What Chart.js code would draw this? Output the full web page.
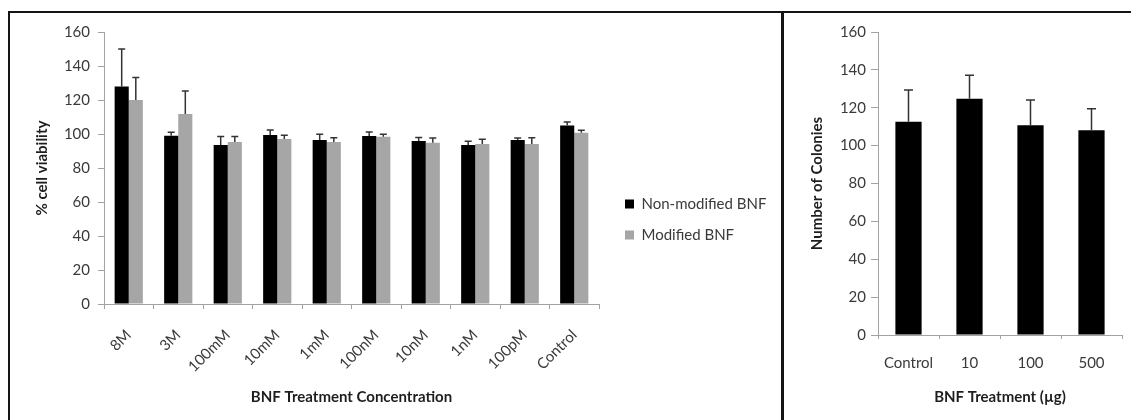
<!DOCTYPE html>
<html>
<head>
<meta charset="utf-8">
<script src="https://cdn.jsdelivr.net/npm/chart.js@4.4.1/dist/chart.umd.min.js"></script>
<style>
  html, body { margin: 0; padding: 0; background: #fff; }
  body { width: 1131px; height: 420px; position: relative; overflow: hidden; }
  .frame { position: absolute; background: #141414; }
  canvas { position: absolute; }
</style>
</head>
<body>
<div class="frame" style="left:8px; top:11px; width:1123px; height:2px;"></div>
<div class="frame" style="left:8px; top:11px; width:2px; height:409px;"></div>
<div class="frame" style="left:781px; top:11px; width:3px; height:409px;"></div>
<canvas id="viability" width="771" height="407" style="left:10px; top:13px; width:771px; height:407px;"></canvas>
<canvas id="colonies" width="347" height="407" style="left:784px; top:13px; width:347px; height:407px;"></canvas>
<script>
// ---------- data ----------
const concentrations = ['8M', '3M', '100mM', '10mM', '1mM', '100nM', '10nM', '1nM', '100pM', 'Control'];
const nonModified    = [128, 99, 93.5, 99.4, 96.5, 98.8, 95.9, 93.5, 96.5, 105];
const nonModifiedErr = [22, 2, 5, 3, 3.3, 2.4, 2, 2.2, 1.2, 2];
const modified       = [120, 111.8, 95.3, 97, 95.3, 98.4, 94.9, 94.1, 94.1, 100.8];
const modifiedErr    = [13.3, 13.5, 3.3, 2.2, 2.5, 1.4, 2.7, 2.8, 3.7, 1.4];

const treatments     = ['Control', '10', '100', '500'];
const colonies       = [112.6, 124.8, 110.7, 108.1];
const coloniesErr    = [16.8, 12.3, 13.4, 11.4];

const yTickValues    = [0, 20, 40, 60, 80, 100, 120, 140, 160];

// ---------- style ----------
Chart.defaults.font.family = 'Lato, "Open Sans", sans-serif';
Chart.defaults.color = '#3a3a3a';
const AXIS = '#a3a3a3';
const TITLE = '#1e1e1e';
const TICK = '#3a3a3a';

// error bars drawn through the y scale
const errorBars = {
  id: 'errorBars',
  afterDatasetsDraw(chart, args, o) {
    const ctx = chart.ctx;
    const y = chart.scales.y;
    chart.data.datasets.forEach((ds, di) => {
      const meta = chart.getDatasetMeta(di);
      if (!ds.errors || meta.hidden) return;
      meta.data.forEach((bar, i) => {
        const top = y.getPixelForValue(ds.data[i] + ds.errors[i]);
        ctx.save();
        ctx.strokeStyle = o.color;
        ctx.lineWidth = o.width;
        ctx.beginPath();
        ctx.moveTo(bar.x, bar.y);
        ctx.lineTo(bar.x, top);
        ctx.moveTo(bar.x - o.cap / 2, top);
        ctx.lineTo(bar.x + o.cap / 2, top);
        ctx.stroke();
        ctx.restore();
      });
    });
  }
};

// fixed legend column width and offset
const legendPlace = {
  id: 'legendPlace',
  beforeLayout(chart, args, o) {
    const lg = chart.legend;
    if (lg && !lg._fixedWidth) {
      const fit = lg.fit;
      lg.fit = function () { fit.call(this); this.width = o.width; };
      lg._fixedWidth = true;
    }
  },
  afterLayout(chart, args, o) {
    const lg = chart.legend;
    if (!lg) return;
    lg.left += o.dx; lg.right += o.dx;
    lg.top += o.dy; lg.bottom += o.dy;
  }
};

function yAxis(title, width, tickLen, tickPad, titlePad) {
  return {
    min: 0, max: 160,
    afterBuildTicks(s) { s.ticks = yTickValues.map(v => ({ value: v })); },
    afterFit(s) { s.width = width; },
    border: { color: AXIS, width: 1 },
    grid: { drawOnChartArea: false, color: AXIS, tickLength: tickLen },
    ticks: { font: { size: 15 }, padding: tickPad, color: TICK },
    title: { display: true, text: title, color: TITLE, font: { size: 15, weight: 'bold' },
             padding: { top: titlePad, bottom: 0 } }
  };
}

new Chart(document.getElementById('viability'), {
  type: 'bar',
  data: {
    labels: concentrations,
    datasets: [
      { label: 'Non-modified BNF', data: nonModified, errors: nonModifiedErr,
        backgroundColor: '#000000', categoryPercentage: 0.57, barPercentage: 1.0 },
      { label: 'Modified BNF', data: modified, errors: modifiedErr,
        backgroundColor: '#a6a6a6', categoryPercentage: 0.57, barPercentage: 1.0 }
    ]
  },
  options: {
    responsive: false, animation: false,
    layout: { padding: { top: 19, left: 0, right: 0, bottom: 0 } },
    scales: {
      x: {
        afterFit(s) { s.height = 116; },
        border: { color: AXIS, width: 1 },
        grid: { drawOnChartArea: false, offset: true, color: AXIS, tickLength: 5 },
        ticks: { font: { size: 15 }, minRotation: 45, maxRotation: 45, padding: 17,
                 labelOffset: 0, color: TICK, autoSkip: false },
        title: { display: true, text: 'BNF Treatment Concentration', color: TITLE,
                 font: { size: 15, weight: 'bold' }, padding: { top: 0, bottom: 14 } }
      },
      y: yAxis('% cell viability', 94, 6, 8, 23)
    },
    plugins: {
      legend: {
        position: 'right', align: 'center',
        labels: { boxWidth: 9, boxHeight: 9, padding: 16, font: { size: 15 }, color: TICK }
      },
      legendPlace: { width: 182, dx: 10, dy: -6.5 },
      errorBars: { color: '#333333', width: 1.5, cap: 7 },
      tooltip: { enabled: false }
    }
  },
  plugins: [errorBars, legendPlace]
});

new Chart(document.getElementById('colonies'), {
  type: 'bar',
  data: {
    labels: treatments,
    datasets: [
      { label: 'Number of Colonies', data: colonies, errors: coloniesErr,
        backgroundColor: '#000000', categoryPercentage: 0.43, barPercentage: 1.0 }
    ]
  },
  options: {
    responsive: false, animation: false,
    layout: { padding: { top: 19, left: 0, right: 9, bottom: 0 } },
    scales: {
      x: {
        afterFit(s) { s.height = 85; },
        border: { color: AXIS, width: 1 },
        grid: { drawOnChartArea: false, offset: true, color: AXIS, tickLength: 4 },
        ticks: { font: { size: 15 }, minRotation: 0, maxRotation: 0, padding: 15, color: TICK },
        title: { display: true, text: 'BNF Treatment (µg)', color: TITLE,
                 font: { size: 15, weight: 'bold' }, padding: { top: 0, bottom: 14 } }
      },
      y: yAxis('Number of Colonies', 94, 7, 5, 24)
    },
    plugins: {
      legend: { display: false },
      errorBars: { color: '#333333', width: 1.5, cap: 9 },
      tooltip: { enabled: false }
    }
  },
  plugins: [errorBars]
});
</script>
</body>
</html>
